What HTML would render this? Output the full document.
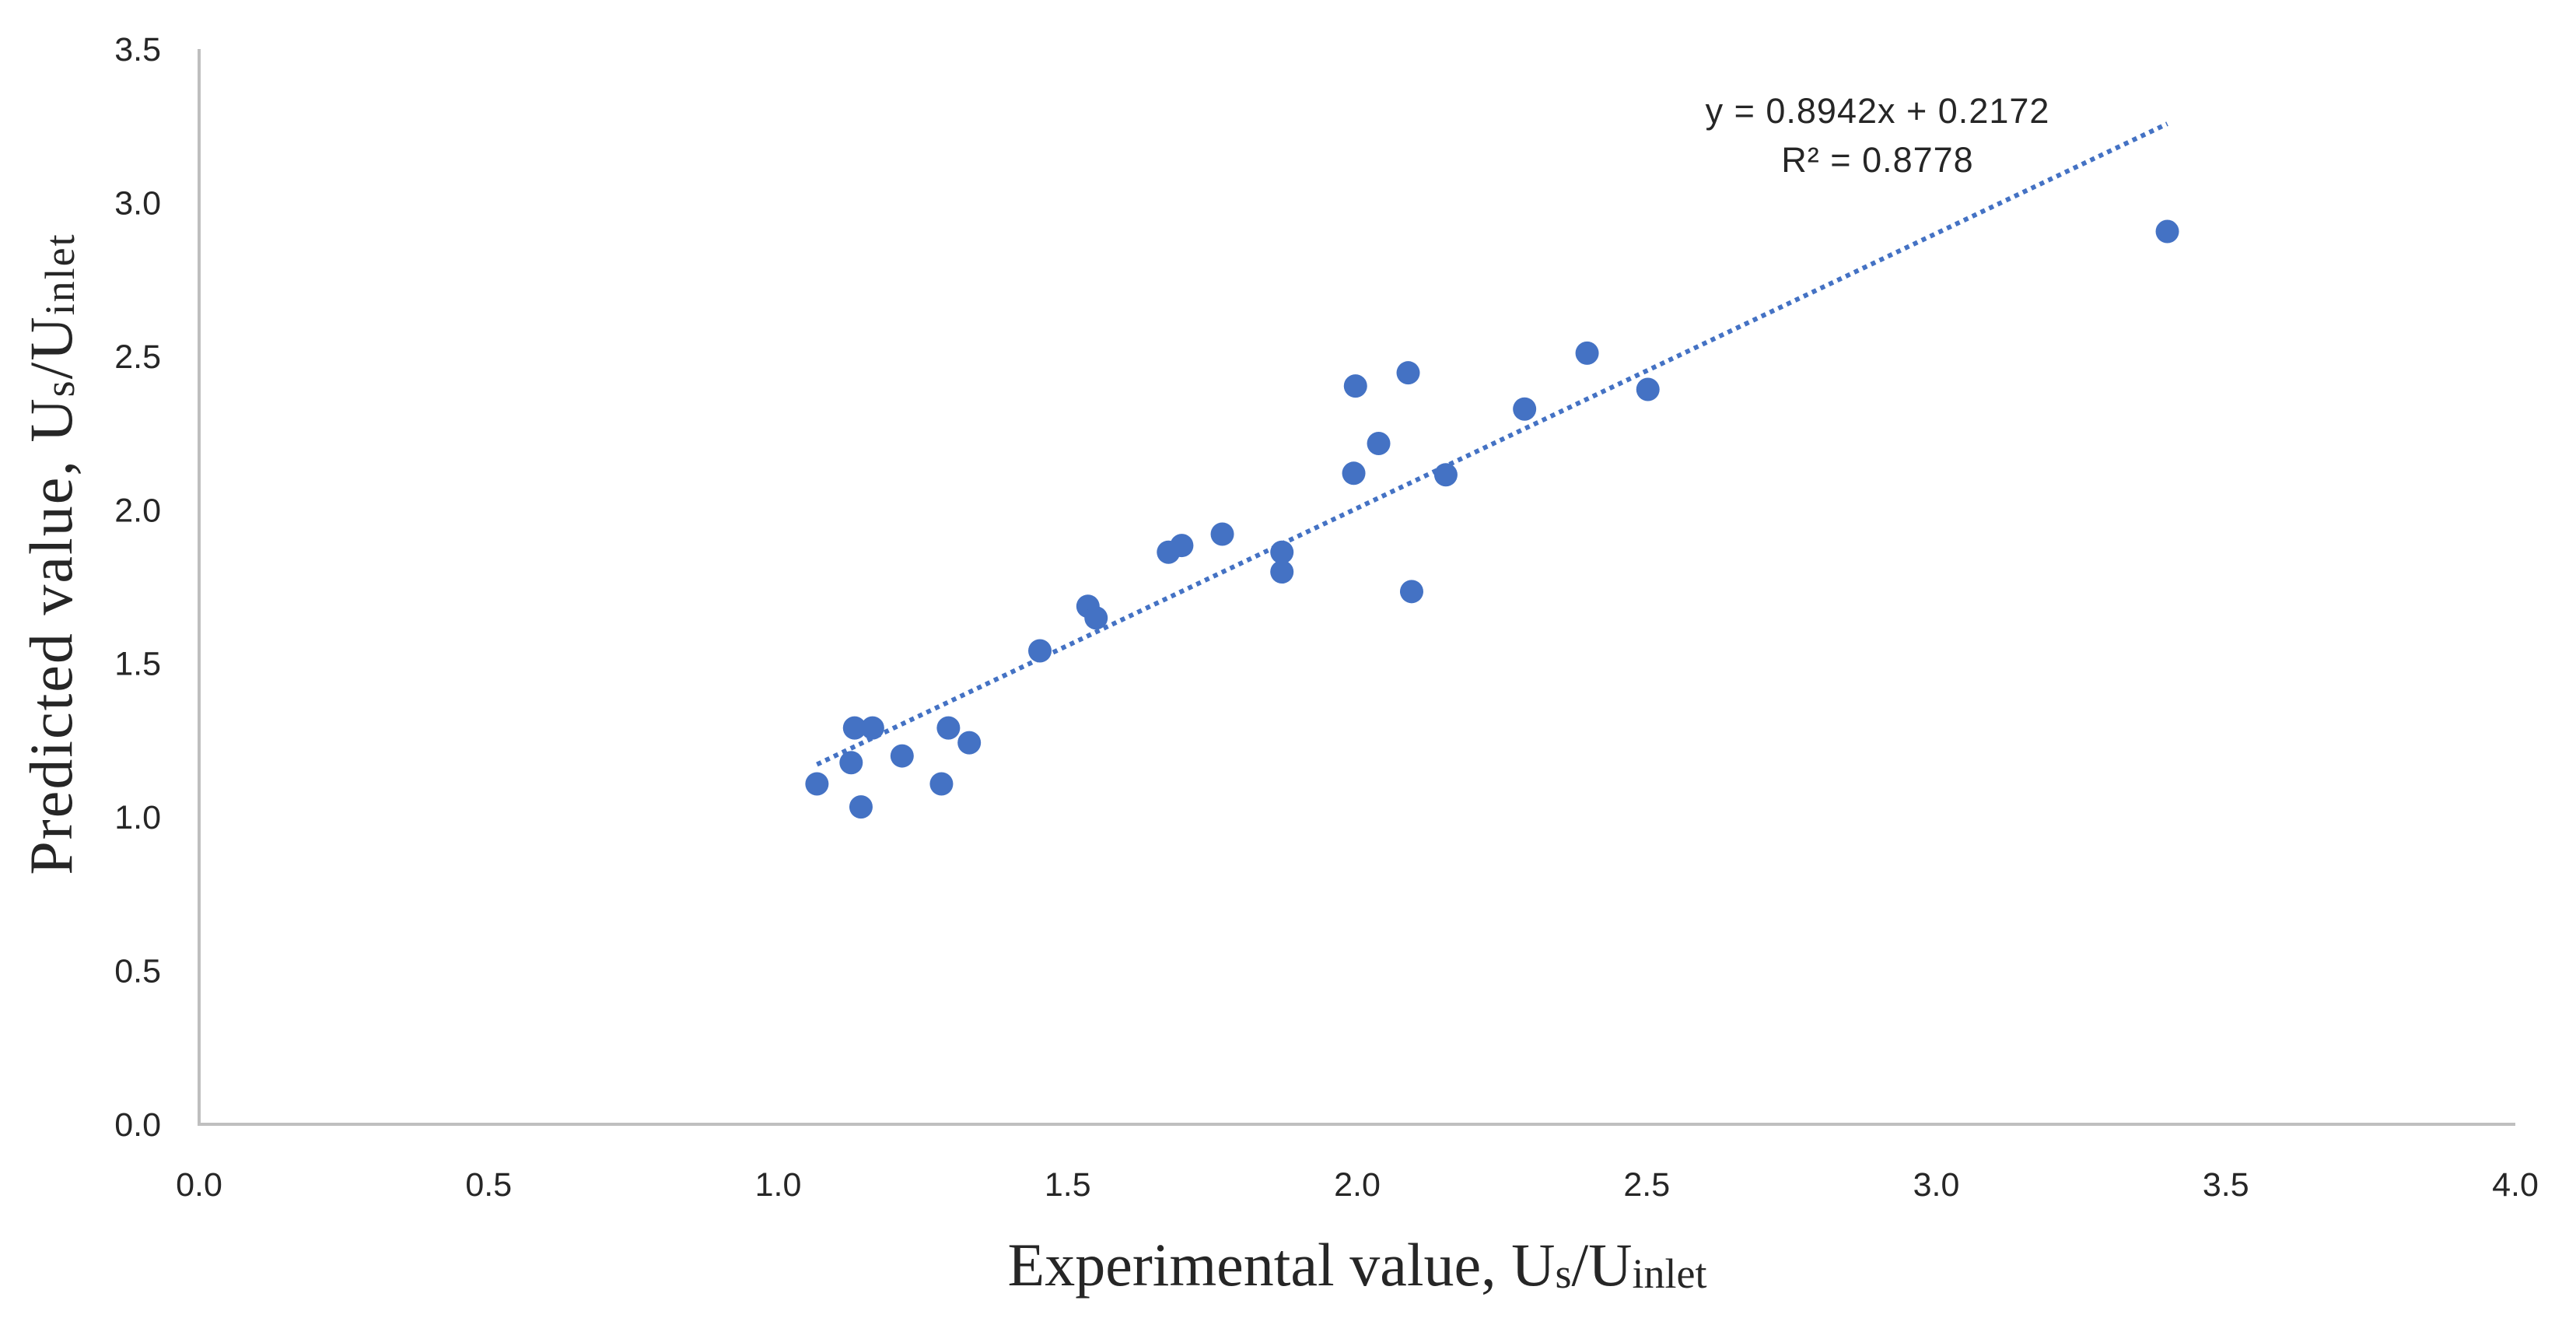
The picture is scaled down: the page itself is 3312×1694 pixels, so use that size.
<!DOCTYPE html>
<html><head><meta charset="utf-8"><style>
html,body{margin:0;padding:0;background:#fff;}
svg{display:block;}
.tick{font-family:"Liberation Sans",sans-serif;font-size:43px;fill:#262626;}
.title{font-family:"Liberation Serif",serif;font-size:78px;fill:#262626;}
.eq{font-family:"Liberation Sans",sans-serif;font-size:45px;fill:#262626;letter-spacing:1px;}
</style></head><body>
<svg id="chart" width="3312" height="1694" viewBox="0 0 3312 1694" xmlns="http://www.w3.org/2000/svg">
<g id="axes"></g>
<g id="trend"></g>
<g id="points"></g>
<text class="eq" x="2414" y="158" text-anchor="middle">y = 0.8942x + 0.2172</text>
<text class="eq" x="2414" y="221" text-anchor="middle">R² = 0.8778</text>
<text class="title" x="1745" y="1652" text-anchor="middle">Experimental value, U<tspan font-size="54" dy="3">s</tspan><tspan dy="-3">/U</tspan><tspan font-size="54" dy="3">inlet</tspan></text>
<text class="title" transform="translate(92,712) rotate(-90)" text-anchor="middle" letter-spacing="2">Predicted value,  U<tspan font-size="54" dy="3">s</tspan><tspan dy="-3">/U</tspan><tspan font-size="54" dy="3">inlet</tspan></text>
</svg>
<script>
const xTicks=[0,0.5,1.0,1.5,2.0,2.5,3.0,3.5,4.0];
const yTicks=[0,0.5,1.0,1.5,2.0,2.5,3.0,3.5];
const expX=[1.067,1.126,1.132,1.163,1.143,1.214,1.282,1.294,1.330,1.452,1.535,1.549,1.674,1.697,1.767,1.870,1.870,1.994,1.997,2.037,2.088,2.094,2.153,2.289,2.397,2.502,3.399];
const predY=[1.108,1.177,1.290,1.290,1.033,1.199,1.108,1.290,1.242,1.541,1.686,1.648,1.862,1.884,1.921,1.862,1.798,2.119,2.403,2.216,2.446,1.734,2.114,2.328,2.510,2.392,2.906];
const slope=0.8942, intercept=0.2172;
const NS="http://www.w3.org/2000/svg";
const X0=256,X1=3234,Y0=1445,Y1=63;
function sx(v){return X0+(v-0)/(4-0)*(X1-X0);}
function sy(v){return Y0-(v-0)/(3.5-0)*(Y0-Y1);}
function mk(t,a,p){const e=document.createElementNS(NS,t);for(const k in a)e.setAttribute(k,a[k]);p.appendChild(e);return e;}
const axes=document.getElementById('axes');
let l=mk('line',{x1:X0,y1:Y1,x2:X0,y2:Y0,stroke:'#bfbfbf','stroke-width':4},axes);


l=mk('line',{x1:X0-2,y1:Y0,x2:X1,y2:Y0,stroke:'#bfbfbf','stroke-width':4},axes);


xTicks.forEach(v=>{const t=mk('text',{x:sx(v),y:Y0+92,'text-anchor':'middle',class:'tick'},axes);t.textContent=v.toFixed(1);

});
yTicks.forEach(v=>{const t=mk('text',{x:207,y:sy(v)+15,'text-anchor':'end',class:'tick'},axes);t.textContent=v.toFixed(1);

});
const xmin=Math.min(...expX),xmax=Math.max(...expX);
const tr=mk('line',{x1:sx(xmin),y1:sy(slope*xmin+intercept),x2:sx(xmax),y2:sy(slope*xmax+intercept),stroke:'#4472C4','stroke-width':6,'stroke-dasharray':'6 6'},document.getElementById('trend'));


const pg=document.getElementById('points');
expX.forEach((x,i)=>{const c=mk('circle',{cx:sx(x),cy:sy(predY[i]),r:15,fill:'#4472C4'},pg);

});
</script>
</body></html>
